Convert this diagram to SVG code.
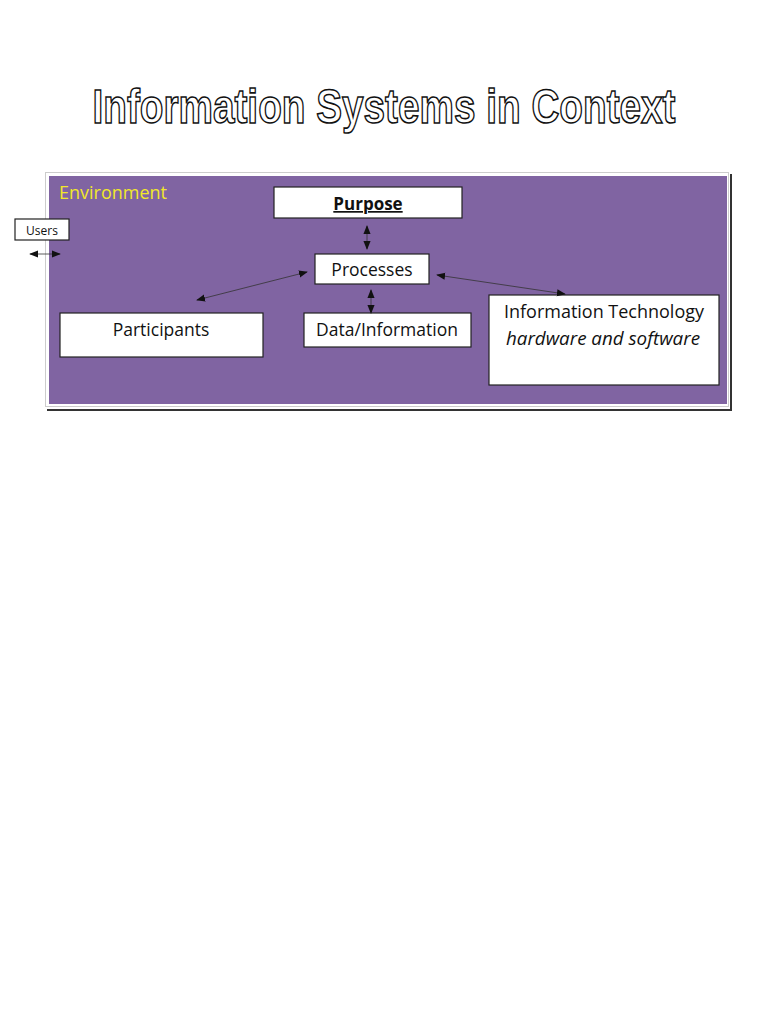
<svg xmlns="http://www.w3.org/2000/svg" width="768" height="1024" viewBox="0 0 768 1024">
<style>
.box{fill:#fff;stroke:#222;stroke-width:1.2}
.t{font-family:"Open Sans","Liberation Sans",sans-serif;fill:#111;text-anchor:middle}
.c{stroke:#333;stroke-width:0.8;fill:none;marker-start:url(#a);marker-end:url(#a)}
</style>
<defs>
<marker id="a" viewBox="0 0 10 10" refX="9" refY="5" markerWidth="9" markerHeight="9" markerUnits="userSpaceOnUse" orient="auto-start-reverse">
<path d="M0,1 L10,5 L0,9 z" fill="#111"/>
</marker>
</defs>
<rect width="768" height="1024" fill="#fff"/>
<text x="384" y="123" font-family="Liberation Sans, Arial, sans-serif" font-weight="bold" font-size="49" fill="#fff" stroke="#111" stroke-width="1.6" text-anchor="middle" textLength="583" lengthAdjust="spacingAndGlyphs">Information Systems in Context</text>
<g id="environment">
<polyline points="731,174 731,410 47,410" fill="none" stroke="#333" stroke-width="2"/>
<rect x="45.5" y="172.5" width="683" height="234" fill="#fff" stroke="#ccc" stroke-width="1"/>
<rect x="49" y="176" width="678" height="228" fill="#8064A2"/>
<text x="59" y="199" font-family="Open Sans, Liberation Sans, sans-serif" font-size="17.5" fill="#F2E829" textLength="108" lengthAdjust="spacingAndGlyphs">Environment</text>
</g>
<g id="users">
<rect class="box" x="15" y="219" width="54" height="21"/>
<text class="t" x="42" y="234.5" font-size="12">Users</text>
</g>
<g id="purpose">
<rect class="box" x="274" y="187" width="188" height="31"/>
<text class="t" x="368" y="210" font-size="17" font-weight="bold" text-decoration="underline">Purpose</text>
</g>
<g id="processes">
<rect class="box" x="315" y="254" width="114" height="30"/>
<text class="t" x="372" y="276" font-size="17.5">Processes</text>
</g>
<g id="participants">
<rect class="box" x="60" y="313" width="203" height="44"/>
<text class="t" x="161" y="336" font-size="17.5">Participants</text>
</g>
<g id="data">
<rect class="box" x="304" y="313" width="167" height="34"/>
<text class="t" x="387" y="336" font-size="17.5">Data/Information</text>
</g>
<g id="it">
<rect class="box" x="489" y="295" width="230" height="90"/>
<text class="t" x="604" y="318" font-size="17.5" textLength="200" lengthAdjust="spacingAndGlyphs">Information Technology</text>
<text class="t" x="603" y="345" font-size="17.5" font-style="italic" textLength="194" lengthAdjust="spacingAndGlyphs">hardware and software</text>
</g>
<g id="connectors">
<line class="c" x1="30" y1="254" x2="60" y2="254" stroke="#aaa"/>
<line class="c" x1="367" y1="226" x2="367" y2="249"/>
<line class="c" x1="307" y1="272" x2="197" y2="300"/>
<line class="c" x1="371" y1="290" x2="371" y2="313" stroke-width="1.6"/>
<line class="c" x1="437" y1="275" x2="565" y2="294"/>
</g>
</svg>
